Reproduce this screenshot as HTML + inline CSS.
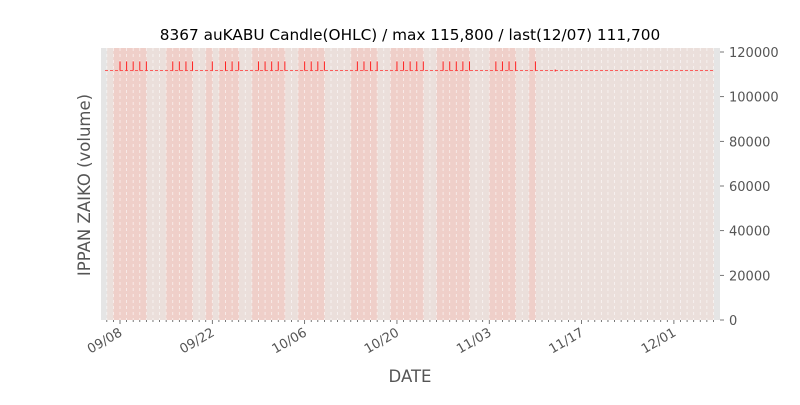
<!DOCTYPE html>
<html><head><meta charset="utf-8"><style>
body{margin:0;background:#fff;}
svg text{font-family:"DejaVu Sans","Liberation Sans",sans-serif;}
</style></head><body>
<svg id="s" width="800" height="400" xmlns="http://www.w3.org/2000/svg"></svg>
<script>
const s=document.getElementById('s');
let h='';
const dx=6.594, x=d=>120+d*dx, y=v=>320-v*268/120000;
h+='<rect x="101" y="48" width="619" height="272" fill="#e5e5e5"/>';
h+=`<rect x="${x(-2)}" y="48" width="${714-x(-2)}" height="272" fill="#ebdfdb"/>`;
const td=[0,1,2,3,4, 8,9,10,11, 14,16,17,18, 21,22,23,24,25, 28,29,30,31, 36,37,38,39, 42,43,44,45,46, 49,50,51,52,53, 57,58,59,60, 63];
td.forEach(d=>{h+=`<rect x="${x(d)-dx}" y="48" width="${dx+0.3}" height="272" fill="#efcfc9"/>`;});
for(let d=-2;d<=90;d++){h+=`<line x1="${x(d)}" y1="48" x2="${x(d)}" y2="320" stroke="#fff" stroke-width="0.8" stroke-dasharray="3,3" opacity="0.7"/>`;}
h+=`<line x1="105" y1="${y(111700)}" x2="714" y2="${y(111700)}" stroke="#f33" stroke-width="0.8" stroke-dasharray="3,2"/>`;
td.forEach(d=>{h+=`<line x1="${x(d)}" y1="${y(115800)}" x2="${x(d)}" y2="${y(111700)}" stroke="#f22" stroke-width="1"/>`;});
h+=`<line x1="${x(66)}" y1="${y(111700)-1}" x2="${x(66)}" y2="${y(111700)+1}" stroke="#f22" stroke-width="1"/>`;
for(let d=-2;d<=90;d++){const maj=(d%14===0);h+=`<line x1="${x(d)}" y1="320" x2="${x(d)}" y2="${maj?324:322}" stroke="#555" stroke-width="0.8"/>`;}
const lab=['09/08','09/22','10/06','10/20','11/03','11/17','12/01'];
lab.forEach((t,i)=>{const xx=x(i*14);h+=`<text x="${xx+3}" y="335" font-size="13" fill="#555" text-anchor="end" transform="rotate(-30 ${xx+3} 335)">${t}</text>`;});
for(let v=0;v<=120000;v+=20000){const yy=y(v);h+=`<line x1="720" y1="${yy}" x2="724" y2="${yy}" stroke="#555" stroke-width="0.8"/><text x="729" y="${yy+5}" font-size="13" fill="#555">${v}</text>`;}
h+='<text x="410" y="40" font-size="15.3" fill="#000" text-anchor="middle">8367 auKABU Candle(OHLC) / max 115,800 / last(12/07) 111,700</text>';
h+='<text x="410" y="382" font-size="16.5" fill="#555" text-anchor="middle">DATE</text>';
h+='<text x="90" y="185" font-size="16.5" fill="#555" text-anchor="middle" transform="rotate(-90 90 185)">IPPAN ZAIKO (volume)</text>';
s.innerHTML=h;
</script>
</body></html>
